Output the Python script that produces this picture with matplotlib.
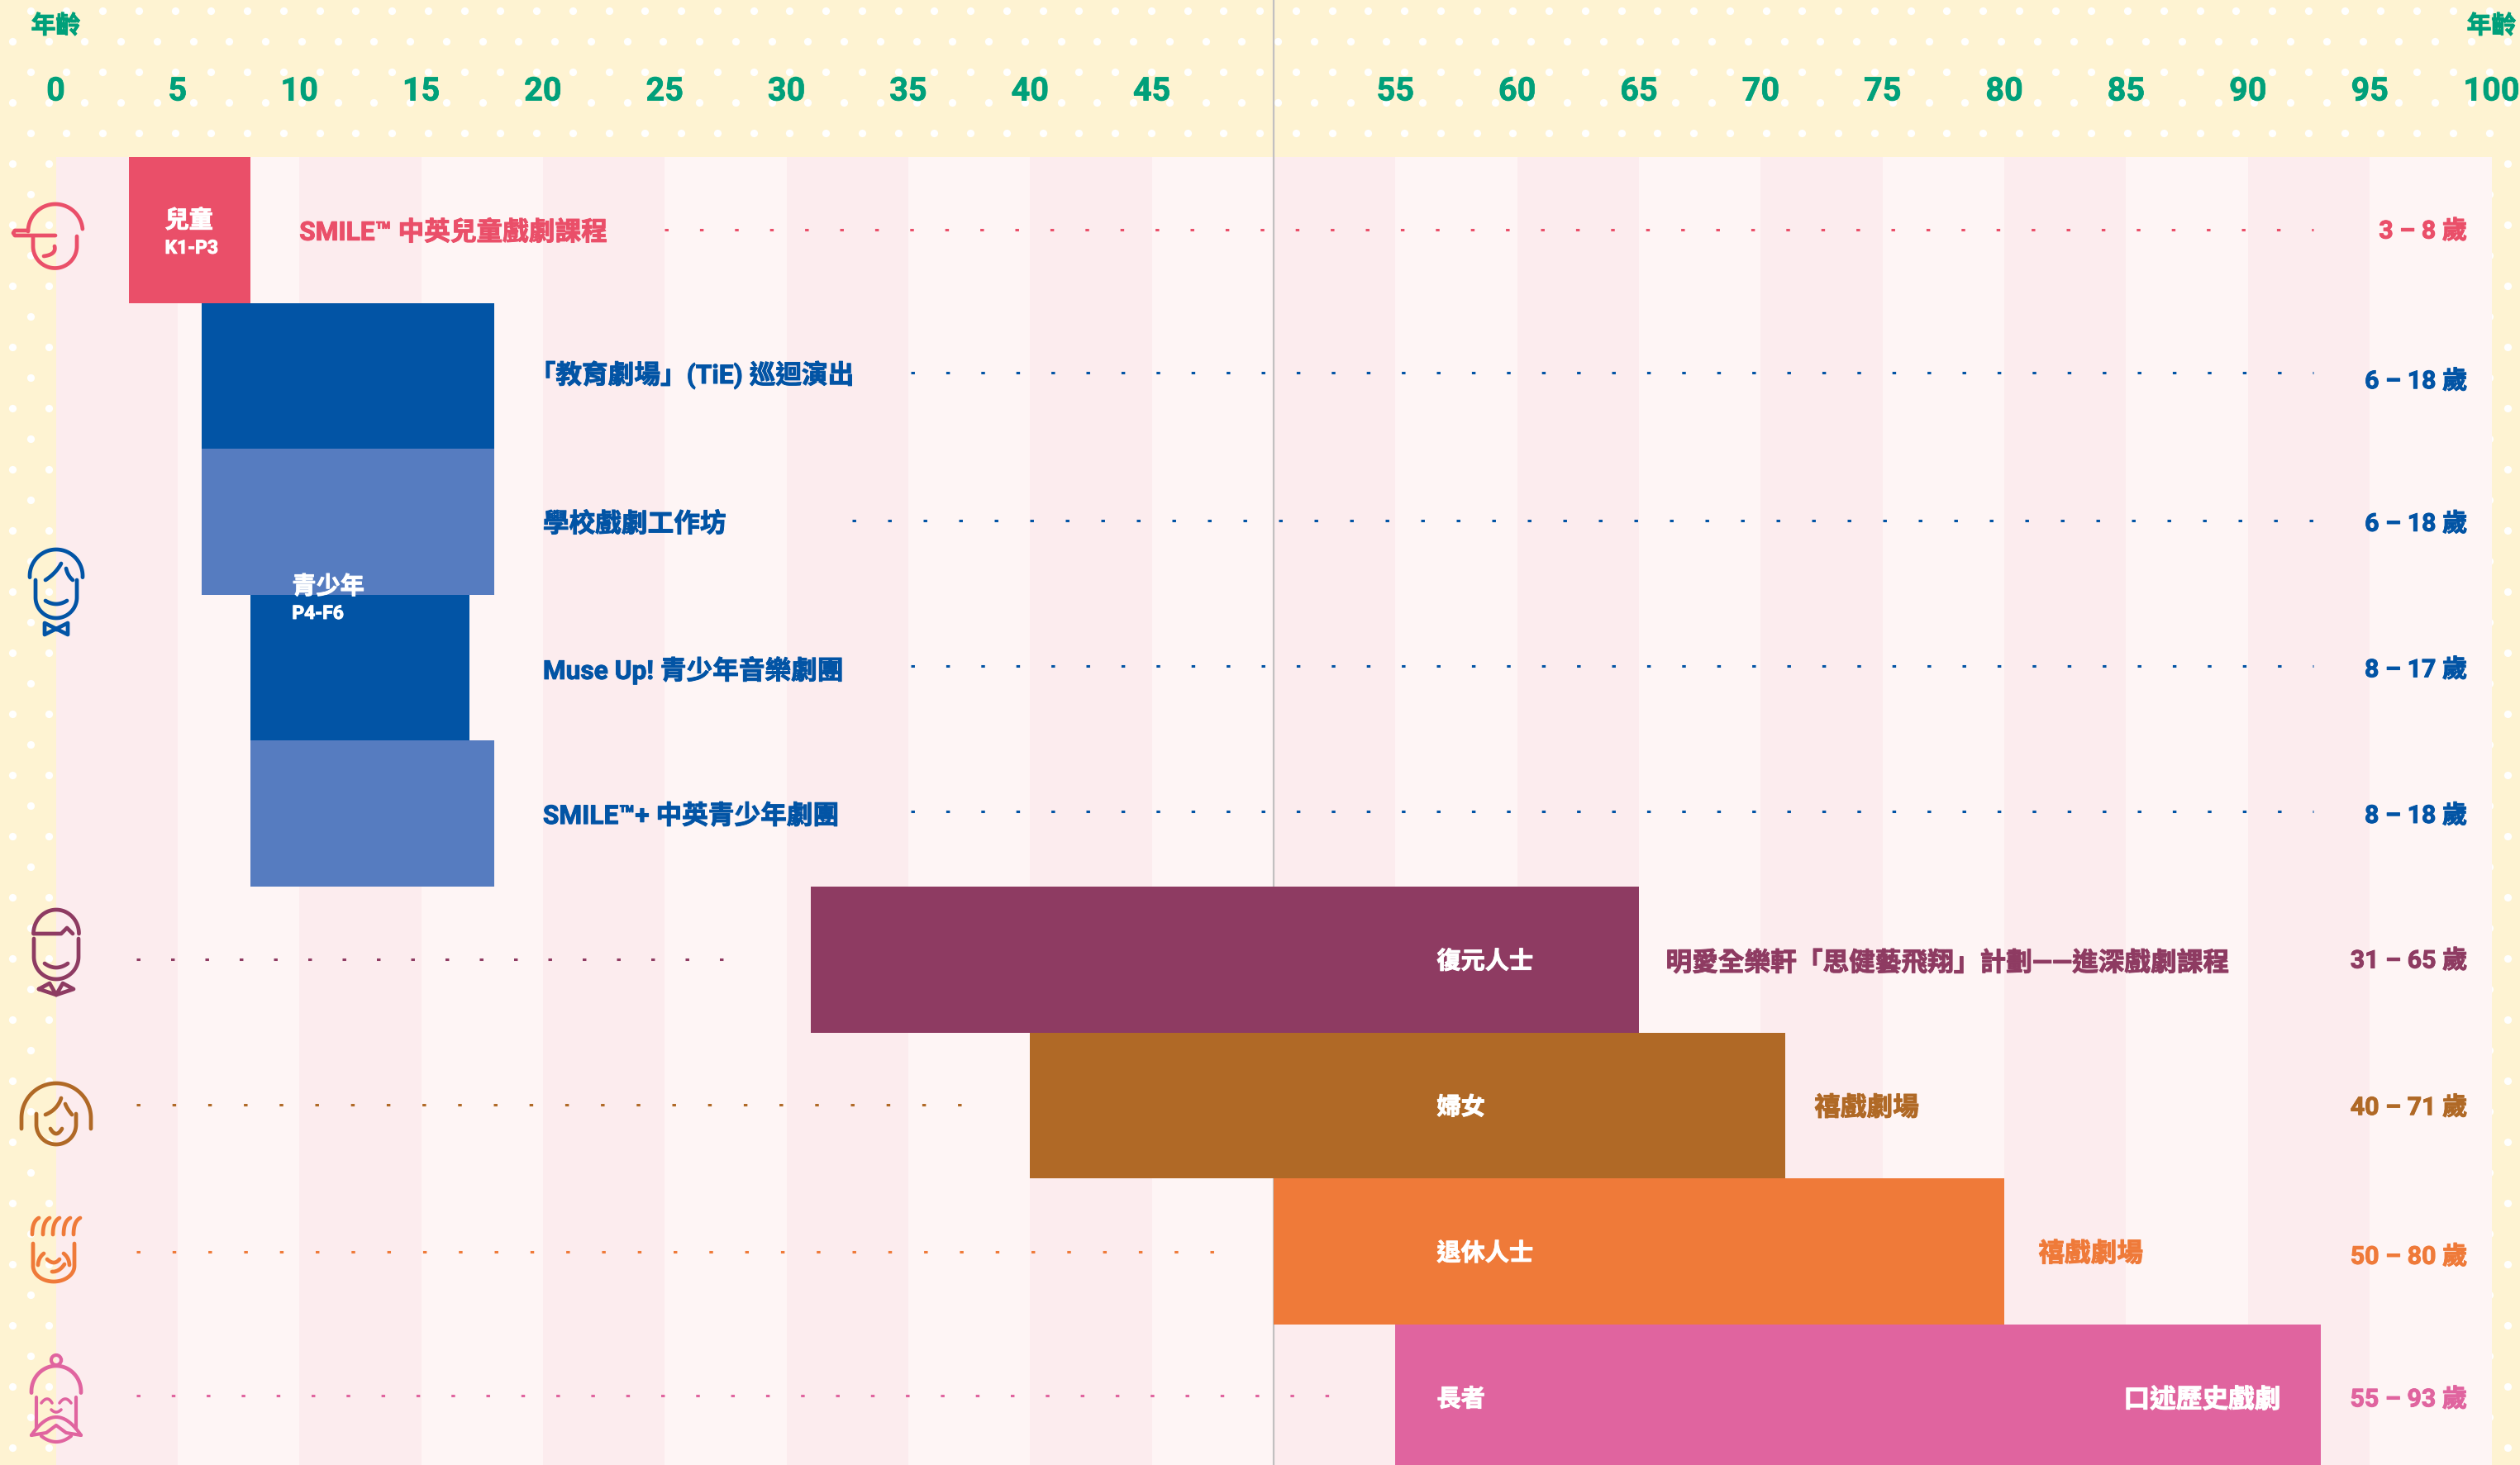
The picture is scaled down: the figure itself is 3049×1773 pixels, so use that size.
"""Age ranges of theatre programmes, drawn as a stacked timeline."""

import numpy as np
import matplotlib
matplotlib.use("Agg")
import matplotlib.pyplot as plt
import matplotlib.patheffects as pe

plt.rcParams["font.family"] = ["Roboto", "Noto Sans CJK TC", "DejaVu Sans"]
plt.rcParams["font.weight"] = "bold"
plt.rcParams["lines.scale_dashes"] = False

W, H = 3049, 1773
X0, X100, Y_TOP, ROW_H = 67.5, 3014.5, 190, 176.6

BG = "#fef3d2"
STRIPE_DARK = "#fcecee"
STRIPE_LIGHT = "#fef5f5"
GREEN = "#00a07a"
WHITE = "#ffffff"

RED = "#ea4f69"
BLUE = "#0254a5"
LIGHT_BLUE = "#567cc0"
MAROON = "#8e3b62"
BROWN = "#b06926"
ORANGE = "#ef7a39"
PINK = "#e0649f"

# one entry per row, top to bottom
start_age = [3, 6, 6, 8, 8, 31, 40, 50, 55]
end_age = [8, 18, 18, 17, 18, 65, 71, 80, 93]
bar_colours = [RED, BLUE, LIGHT_BLUE, BLUE, LIGHT_BLUE, MAROON, BROWN, ORANGE, PINK]
text_colours = [RED, BLUE, BLUE, BLUE, BLUE, MAROON, BROWN, ORANGE, PINK]

programme_names = [
    "SMILE™ 中英兒童戲劇課程",
    "「教育劇場」(TiE) 巡迴演出",
    "學校戲劇工作坊",
    "Muse Up! 青少年音樂劇團",
    "SMILE™+ 中英青少年劇團",
    "明愛全樂軒「思健藝飛翔」計劃——進深戲劇課程",
    "禧戲劇場",
    "禧戲劇場",
    "口述歷史戲劇",
]
programme_x = [10.0, 19.45, 20, 20, 20, 66.1, 72.2, 81.4, 84.9]
programme_dy = [3, -1, 3, 3, 3, 4, 3, 3, 3]

range_labels = ["3 – 8 歲", "6 – 18 歲", "6 – 18 歲", "8 – 17 歲", "8 – 18 歲",
                "31 – 65 歲", "40 – 71 歲", "50 – 80 歲", "55 – 93 歲"]
range_x = 99.0
range_dy = [2, 7, 3, 3, 3, 2, 3, 7, 3]

leader_start = [25.0, 35.1, 32.7, 35.1, 35.1, 3.3, 3.3, 3.3, 3.3]
leader_end = [92.7, 92.7, 92.7, 92.7, 92.7, 27.4, 37.5, 47.6, 52.6]
leader_gap_px = [42.4, 42.4, 43.0, 42.4, 42.4, 41.5, 43.2, 43.3, 42.3]
leader_dy = [0, -4, -1.5, -2, -3, 0, -1, 0, -2]

group_names = ["復元人士", "婦女", "退休人士", "長者"]
group_rows = [5, 6, 7, 8]
group_x = 56.7

tick_ages = [a for a in range(0, 101, 5) if a != 50]


def row_y(row, dy=0.0):
    """Row centre in axis units, with an offset given in pixels."""
    return row + 0.5 + dy / ROW_H


def stroke(ax, pts, colour, lw=3.4):
    """Draw a rounded pen stroke; three points become a smooth curve through them."""
    pts = np.array(pts, dtype=float)
    if len(pts) == 3:
        t = np.linspace(0, 1, 24)[:, None]
        ctrl = 2 * pts[1] - (pts[0] + pts[2]) / 2
        pts = (1 - t) ** 2 * pts[0] + 2 * t * (1 - t) * ctrl + t ** 2 * pts[2]
    ax.plot(pts[:, 0], pts[:, 1], color=colour, lw=lw,
            solid_capstyle="round", solid_joinstyle="round")


def arc(cx, cy, rx, ry, a0, a1):
    """Ellipse points in pixel space (y down), angles in degrees, 0 = right, 90 = up."""
    a = np.radians(np.linspace(a0, a1, 60))
    return np.column_stack([cx + rx * np.cos(a), cy - ry * np.sin(a)])


def face(ax, cx, half, y0, y1, colour, ry=None):
    """Open U-shaped jaw: two sides running into a half ellipse."""
    ry = half if ry is None else ry
    ax.plot(*np.vstack([[[cx - half, y0]], arc(cx, y1, half, ry, 180, 360), [[cx + half, y0]]]).T,
            color=colour, lw=3.4, solid_capstyle="round")


def icon_child(ax, c):
    ax.plot(*arc(67, 280, 33, 33, 5, 180).T, color=c, lw=3.4, solid_capstyle="round")
    stroke(ax, [(34, 279), (18, 279), (16, 282), (18, 285), (67, 285)], c)
    face(ax, 66.5, 26.5, 286, 298, c)
    stroke(ax, [(66, 298), (64, 306), (53, 310)], c)


def icon_teen(ax, c):
    ax.plot(*arc(68, 697, 32, 32, -3, 183).T, color=c, lw=3.4, solid_capstyle="round")
    face(ax, 68, 25, 702, 723, c)
    stroke(ax, [(55, 702), (66, 693), (74, 682)], c)
    stroke(ax, [(80, 688), (83, 696), (88, 702)], c)
    stroke(ax, [(55, 727), (68, 731), (81, 727)], c)
    for sign in (-1, 1):
        stroke(ax, [(68, 761), (68 + sign * 14, 754), (68 + sign * 14, 768), (68, 761)], c)
    ax.scatter([68], [761], s=10, color=c)


def icon_adult(ax, c):
    ax.plot(*arc(68, 1130, 27.5, 29, 0, 180).T, color=c, lw=3.4, solid_capstyle="round")
    stroke(ax, [(41, 1130), (74, 1130), (81, 1123), (88, 1130)], c)
    face(ax, 68, 27, 1136, 1158, c)
    stroke(ax, [(54, 1166), (68, 1171), (82, 1166)], c)
    stroke(ax, [(47, 1197), (60, 1190), (68, 1204), (76, 1190), (89, 1197), (68, 1204), (47, 1197)], c)


def icon_woman(ax, c):
    ax.plot(*np.vstack([[[26, 1366]], arc(68, 1353, 42, 42, 180, 0), [[110, 1366]]]).T,
            color=c, lw=3.4, solid_capstyle="round")
    face(ax, 68, 24, 1348, 1361, c)
    stroke(ax, [(55, 1349), (67, 1341), (74, 1329)], c)
    stroke(ax, [(79, 1336), (82, 1342), (87, 1349)], c)
    stroke(ax, [(61, 1366), (68, 1372), (75, 1366)], c)


def icon_retired(ax, c):
    for x in (39, 52, 64, 77, 89):
        stroke(ax, [(x, 1494), (x + 2, 1481), (x + 8, 1474)], c)
    face(ax, 65, 25, 1505, 1532, c, ry=19)
    stroke(ax, [(46, 1531), (48, 1523), (53, 1517)], c)
    stroke(ax, [(77, 1517), (82, 1523), (84, 1531)], c)
    stroke(ax, [(57, 1524), (65, 1528), (72, 1524)], c)
    stroke(ax, [(63, 1539), (71, 1537), (78, 1530)], c)


def icon_elder(ax, c):
    ax.plot(*arc(68, 1646, 6, 6, 0, 360).T, color=c, lw=3.0)
    ax.plot(*arc(68, 1684, 30, 31, -3, 183).T, color=c, lw=3.4, solid_capstyle="round")
    stroke(ax, [(44, 1691), (44, 1729)], c, lw=3.0)
    stroke(ax, [(92, 1691), (92, 1729)], c, lw=3.0)
    stroke(ax, [(50, 1698), (57, 1693), (63, 1698)], c, lw=2.6)
    stroke(ax, [(72, 1698), (79, 1693), (86, 1698)], c, lw=2.6)
    stroke(ax, [(62, 1706), (68, 1709), (74, 1706)], c, lw=2.6)
    stroke(ax, [(38, 1737), (68, 1715), (98, 1737)], c, lw=3.0)
    stroke(ax, [(38, 1737), (56, 1734), (68, 1725), (80, 1734), (98, 1737)], c, lw=3.0)
    stroke(ax, [(50, 1738), (68, 1745), (86, 1738)], c, lw=3.0)


def label(ax, x, y, s, colour, size, ha="left"):
    """Text with a thin outline in its own colour, to reach the heavy weight of the original."""
    t = ax.text(x, y, s, ha=ha, va="center", fontsize=size, color=colour, clip_on=False, zorder=5)
    t.set_path_effects([pe.withStroke(linewidth=0.7, foreground=colour)])
    return t


fig = plt.figure(figsize=(W / 100, H / 100), dpi=100, facecolor=BG)

# polka-dot backdrop, in pixel coordinates
ax_bg = fig.add_axes([0, 0, 1, 1], zorder=0)
ax_bg.set_xlim(0, W)
ax_bg.set_ylim(H, 0)
ax_bg.axis("off")
for j, y in enumerate(np.arange(13, H, 37)):
    x_first = 36.7 if j % 2 == 0 else 14.8
    xs = np.arange(x_first, W, 43.75)
    ax_bg.scatter(xs, np.full_like(xs, y), s=44, color=WHITE, linewidths=0)

# the chart itself: x is age, y is row number
ax = fig.add_axes([X0 / W, 0, (X100 - X0) / W, (H - Y_TOP) / H], zorder=1)
ax.patch.set_alpha(0)
ax.set_xlim(0, 100)
ax.set_ylim((H - Y_TOP) / ROW_H, 0)
for spine in ax.spines.values():
    spine.set_visible(False)

for i, age in enumerate(range(0, 100, 5)):
    ax.axvspan(age, age + 5, color=STRIPE_DARK if i % 2 == 0 else STRIPE_LIGHT, lw=0, zorder=1)

ax.plot([50, 50], [-Y_TOP / ROW_H, (H - Y_TOP) / ROW_H], color="#c2c0c0", lw=1.6,
        clip_on=False, zorder=1.5)

rows = np.arange(len(start_age))
ax.barh(rows + 0.5, np.array(end_age) - np.array(start_age), left=start_age, height=1,
        color=bar_colours, lw=0, zorder=2)

ax.set_xticks(tick_ages)
ax.set_xticklabels([str(a) for a in tick_ages])
ax.set_yticks([])
ax.tick_params(axis="x", top=True, bottom=False, labeltop=True, labelbottom=False,
               length=0, pad=43.5, labelsize=28.5, labelcolor=GREEN)
for tick in ax.get_xticklabels():
    tick.set_path_effects([pe.withStroke(linewidth=0.5, foreground=GREEN)])

# dotted leaders behind the text
for r in rows:
    y = row_y(r, leader_dy[r])
    gap_pt = leader_gap_px[r] * 0.72
    ax.plot([leader_start[r], leader_end[r]], [y, y], color=text_colours[r], lw=2.2,
            linestyle=(0, (3.2, gap_pt - 3.2)), zorder=3)

for r in rows:
    colour = WHITE if r == 8 else text_colours[r]
    label(ax, programme_x[r], row_y(r, programme_dy[r]), programme_names[r], colour, 22.8)
    label(ax, range_x, row_y(r, range_dy[r]), range_labels[r], text_colours[r], 21.8, ha="right")
for name, r in zip(group_names, group_rows):
    label(ax, group_x, row_y(r, 3), name, WHITE, 21)

label(ax, 4.48, row_y(0, -11), "兒童", WHITE, 21)
label(ax, 4.48, row_y(0, 22), "K1-P3", WHITE, 16.5)
label(ax, 9.7, row_y(2, 79), "青少年", WHITE, 21)
label(ax, 9.7, row_y(2, 111), "P4-F6", WHITE, 16.5)

label(ax, 0, -158 / ROW_H, "年齡", GREEN, 21.5, ha="center")
label(ax, 100, -158 / ROW_H, "年齡", GREEN, 21.5, ha="center")

# line-drawn faces on top, in pixel coordinates
ax_px = fig.add_axes([0, 0, 1, 1], zorder=2)
ax_px.set_xlim(0, W)
ax_px.set_ylim(H, 0)
ax_px.axis("off")
icon_child(ax_px, RED)
icon_teen(ax_px, BLUE)
icon_adult(ax_px, MAROON)
icon_woman(ax_px, BROWN)
icon_retired(ax_px, ORANGE)
icon_elder(ax_px, PINK)

fig.savefig("out.png", dpi=100, facecolor=BG)
plt.close(fig)
